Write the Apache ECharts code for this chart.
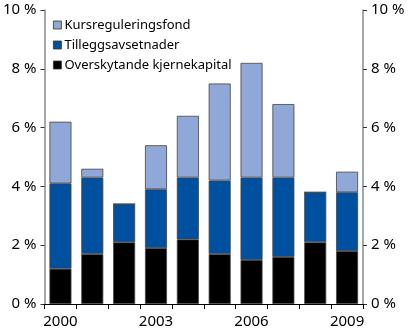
<!DOCTYPE html>
<html><head><meta charset="utf-8">
<script src="https://cdn.jsdelivr.net/npm/echarts@6/dist/echarts.min.js"></script>
<style>html,body{margin:0;padding:0;background:#fff}#c{width:410px;height:335px}</style>
</head><body><div id="c"></div>
<script>
const categories = ['2000','2001','2002','2003','2004','2005','2006','2007','2008','2009'];
const overskytande = [1.2, 1.7, 2.1, 1.9, 2.2, 1.7, 1.5, 1.6, 2.1, 1.8];
const tillegg = [2.9, 2.6, 1.3, 2.0, 2.1, 2.5, 2.8, 2.7, 1.7, 2.0];
const kurs = [2.1, 0.3, 0, 1.5, 2.1, 3.3, 3.9, 2.5, 0, 0.7];
const shownYears = ['2000','2003','2006','2009'];
const font = 'Noto Sans';
const chart = echarts.init(document.getElementById('c'));
const yAxisBase = {
  type: 'value', min: 0, max: 10, interval: 2,
  axisLine: {show: true, lineStyle: {color: '#888', width: 1.5}},
  axisTick: {show: true, length: 4, lineStyle: {color: '#333'}},
  splitLine: {show: false},
  axisLabel: {formatter: v => v + ' %', color: '#000', fontSize: 15, fontFamily: font}
};
const bar = (name, data, color) => ({
  name, type: 'bar', stack: 'a', data, barWidth: 22,
  itemStyle: {color, borderColor: '#444', borderWidth: 0.8}
});
chart.setOption({
  animation: false,
  grid: {left: 43, right: 47, top: 10, bottom: 31},
  legend: {
    orient: 'vertical', left: 48, top: 13, itemWidth: 8, itemHeight: 8, itemGap: 6,
    icon: 'rect',
    textStyle: {fontSize: 13, lineHeight: 14, fontFamily: font, color: '#000', padding: [0,0,0,-2]},
    data: [
      {name: 'Kursreguleringsfond', itemStyle: {borderColor: '#333', borderWidth: 0.8}},
      {name: 'Tilleggsavsetnader', itemStyle: {borderColor: '#333', borderWidth: 0.8}},
      {name: 'Overskytande kjernekapital', itemStyle: {borderColor: '#333', borderWidth: 0.8}}
    ]
  },
  xAxis: {
    type: 'category', data: categories,
    axisLine: {lineStyle: {color: '#000', width: 1.2}},
    axisTick: {show: true, length: 5, interval: 0, lineStyle: {color: '#000'}},
    axisLabel: {
      interval: 0, fontSize: 15, fontFamily: font, color: '#000', margin: 10,
      formatter: v => shownYears.includes(v) ? v : ''
    }
  },
  yAxis: [
    Object.assign({}, yAxisBase, {position: 'left'}),
    Object.assign({}, yAxisBase, {position: 'right'})
  ],
  series: [
    bar('Overskytande kjernekapital', overskytande, '#000000'),
    bar('Tilleggsavsetnader', tillegg, '#0050A0'),
    bar('Kursreguleringsfond', kurs, '#8FA8D8')
  ]
});
</script></body></html>
